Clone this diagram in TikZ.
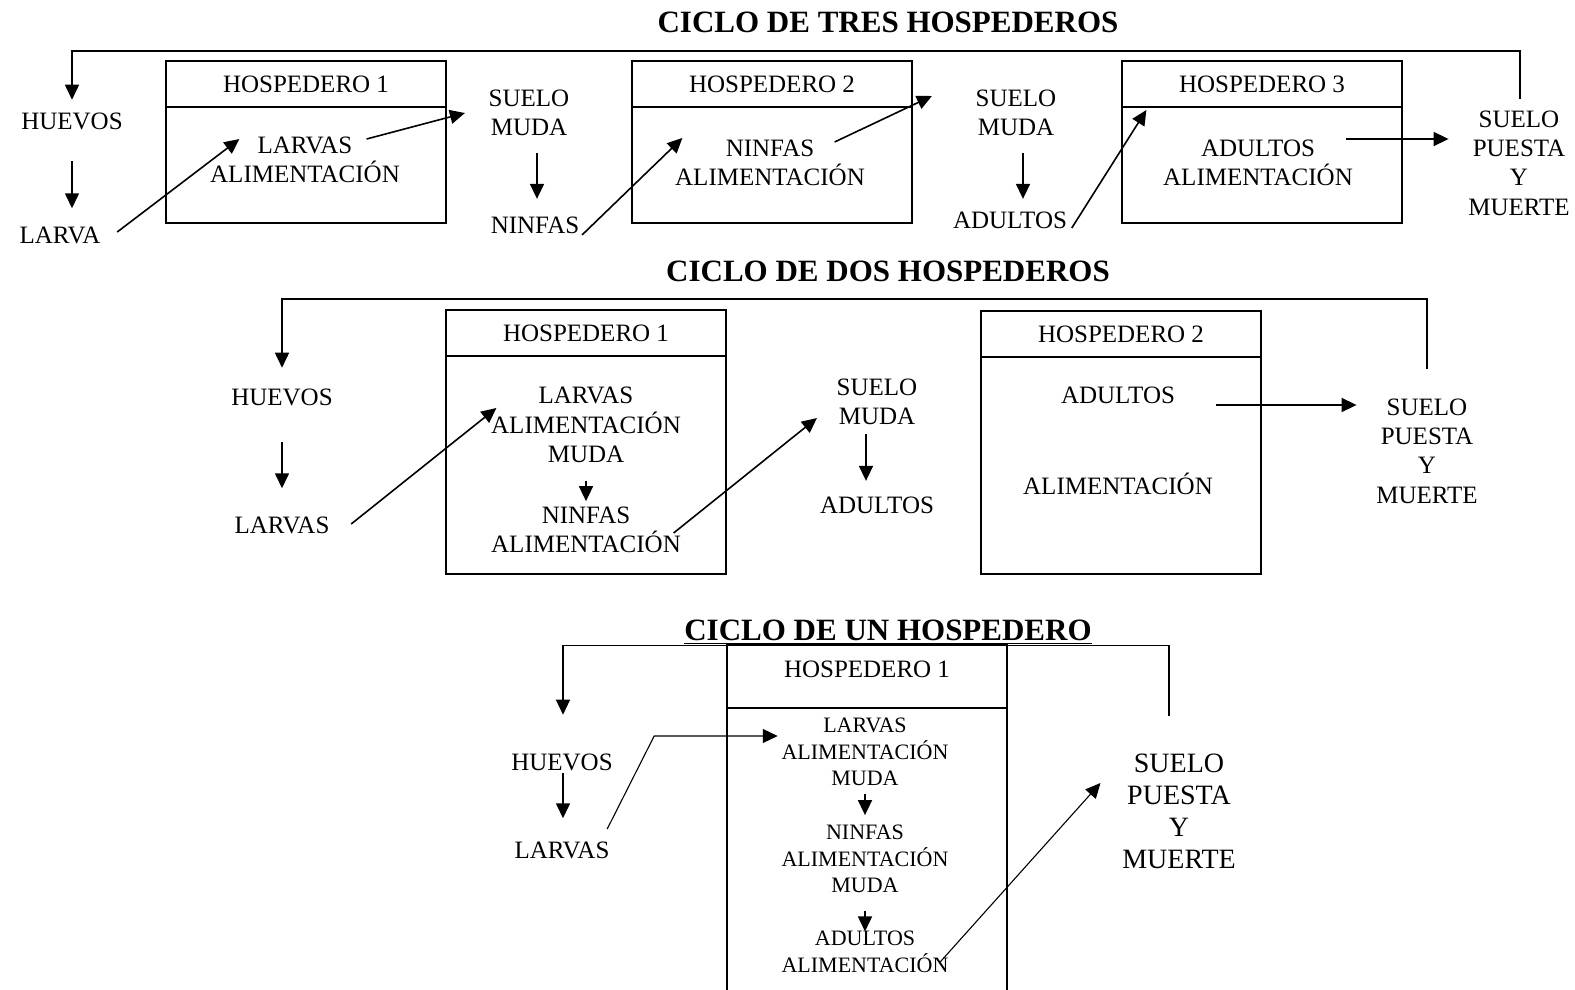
\documentclass[tikz,border=0pt]{standalone}
\usepackage{fontspec}
\setmainfont{Liberation Serif}
\usetikzlibrary{arrows.meta,positioning,calc}

\begin{document}
\begin{tikzpicture}[x=0.5pt,y=-0.5pt,line width=0.8pt,>={Triangle[length=7.5pt,width=7pt]},
  txt/.style={align=center,inner sep=0pt,font=\fontsize{12.5}{14.65}\selectfont},
  chico/.style={align=center,inner sep=0pt,font=\fontsize{11}{13.35}\selectfont},
  grande/.style={align=center,inner sep=0pt,font=\fontsize{14}{16}\selectfont},
  titulo/.style={inner sep=0pt,font=\fontsize{15.5}{18}\selectfont\bfseries},
  cab/.style={draw,minimum width=140pt,inner sep=0pt,outer sep=0pt,font=\fontsize{12.5}{14.65}\selectfont},
  cuerpo/.style={draw,minimum width=140pt,inner sep=0pt,outer sep=0pt},
  fino/.style={line width=0.55pt}]
\useasboundingbox (0,0) rectangle (1575,990);

\node[titulo] (tit3) at (888,22) {CICLO DE TRES HOSPEDEROS};
\node[txt] (hue3) at (72,121) {HUEVOS};
\node[txt] (lar3) at (60,235) {LARVA};
\node[cab,minimum height=23pt] (h31) at (306,84) {HOSPEDERO 1};
\node[cuerpo,minimum height=58pt,below=0pt of h31] (c31) {};
\node[txt] (l31) at (305,160) {LARVAS\\ALIMENTACIÓN};
\node[txt] (s31) at (529,113) {SUELO\\MUDA};
\node[txt] (n3) at (535,225) {NINFAS};
\node[cab,minimum height=23pt] (h32) at (772,84) {HOSPEDERO 2};
\node[cuerpo,minimum height=58pt,below=0pt of h32] (c32) {};
\node[txt] (n32) at (770,163) {NINFAS\\ALIMENTACIÓN};
\node[txt] (s32) at (1016,113) {SUELO\\MUDA};
\node[txt] (a3) at (1010,220) {ADULTOS};
\node[cab,minimum height=23pt] (h33) at (1262,84) {HOSPEDERO 3};
\node[cuerpo,minimum height=58pt,below=0pt of h33] (c33) {};
\node[txt] (a33) at (1258,163) {ADULTOS\\ALIMENTACIÓN};
\node[txt] (sp3) at (1519,163) {SUELO\\PUESTA\\Y\\MUERTE};
\draw[->] ($(hue3.south)+(0,31)$) -- ++(0,47);
\draw[->] ($(lar3.east)+(16,-3)$) -- ($(l31.west)+(30,-21)$);
\draw[->] ($(l31.east)+(-34,-21)$) -- ($(s31.west)+(-23,0)$);
\draw[->] ($(s31.south)+(8,16)$) -- ++(0,46);
\draw[->] ($(n3.east)+(2,10)$) -- ($(n32.west)+(8,-25)$);
\draw[->] ($(n32.east)+(-31,-21)$) -- ($(s32.west)+(-43,-17)$);
\draw[->] ($(s32.south)+(7,16)$) -- ++(0,46);
\draw[->] ($(a3.east)+(4,8)$) -- ($(a33.west)+(-16,-53)$);
\draw[->] ($(a33.east)+(-8,-24)$) -- ($(sp3.west)+(-19,-24)$);
\draw[->] ($(sp3.north)+(1,-11)$) -- ++(0,-48) -| ($(hue3.north)+(0,-12)$);

\node[titulo] (tit2) at (888,271) {CICLO DE DOS HOSPEDEROS};
\node[txt] (hue2) at (282,397) {HUEVOS};
\node[txt] (lar2) at (282,525) {LARVAS};
\node[cab,minimum height=23pt] (h21) at (586,333) {HOSPEDERO 1};
\node[cuerpo,minimum height=109pt,below=0pt of h21] (c21) {};
\node[txt] (l21) at (586,425) {LARVAS\\ALIMENTACIÓN\\MUDA};
\node[txt] (n21) at (586,530) {NINFAS\\ALIMENTACIÓN};
\node[txt] (s2) at (877,402) {SUELO\\MUDA};
\node[txt] (a2) at (877,505) {ADULTOS};
\node[cab,minimum height=23pt] (h22) at (1121,334) {HOSPEDERO 2};
\node[cuerpo,minimum height=108.5pt,below=0pt of h22] (c22) {};
\node[txt] (a22) at (1118,395) {ADULTOS};
\node[txt] (al22) at (1118,484) {ALIMENTACIÓN};
\node[txt] (sp2) at (1427,451) {SUELO\\PUESTA\\Y\\MUERTE};
\draw[->] ($(hue2.south)+(0,36)$) -- ++(0,46);
\draw[->] ($(lar2.east)+(21,-1)$) -- ($(l21.west)+(6,-17)$);
\draw[->] ($(l21.south)+(0,17)$) -- ($(n21.north)+(0,-5)$);
\draw[->] ($(n21.east)+(-8,3)$) -- ($(s2.west)+(-19,16)$);
\draw[->] ($(s2.south)+(-11,8)$) -- ++(0,47);
\draw[->] ($(a22.east)+(40,10)$) -- ($(sp2.west)+(-19,-46)$);
\draw[->] ($(sp2.north)+(0,-29)$) -- ++(0,-70) -| ($(hue2.north)+(0,-20)$);

\node[titulo,anchor=base] (tit1) at (888,640) {\underline{CICLO DE UN HOSPEDERO}};
\node[txt] (hue1) at (562,762) {HUEVOS};
\node[txt] (lar1) at (562,850) {LARVAS};
\node[cab,fino,minimum height=32pt,text depth=7pt] (h11) at (867,676) {HOSPEDERO 1};
\node[cuerpo,fino,minimum height=150pt,below=0pt of h11] (c11) {};
\node[chico] (l11) at (865,752) {LARVAS\\ALIMENTACIÓN\\MUDA};
\node[chico] (n11) at (865,859) {NINFAS\\ALIMENTACIÓN\\MUDA};
\node[chico] (a11) at (865,952) {ADULTOS\\ALIMENTACIÓN};
\node[grande] (sp1) at (1179,811) {SUELO\\PUESTA\\Y\\MUERTE};
\draw[->] ($(hue1.south)+(1,2)$) -- ++(0,45);
\draw[->,fino] ($(lar1.east)+(-3,-21)$) -- ++(47,-93) -- ($(l11.west)+(-3,-16)$);
\draw[->] ($(l11.south)+(0,7)$) -- ($(n11.north)+(0,-9)$);
\draw[->] ($(n11.south)+(0,17)$) -- ($(a11.north)+(0,1)$);
\draw[->,fino] ($(a11.east)+(-10,11)$) -- ($(sp1.west)+(-21,-28)$);
\draw[->,fino] ($(sp1.north)+(-10,-37)$) -- ++(0,-70) -| ($(hue1.north)+(1,-38)$);
\end{tikzpicture}
\end{document}
